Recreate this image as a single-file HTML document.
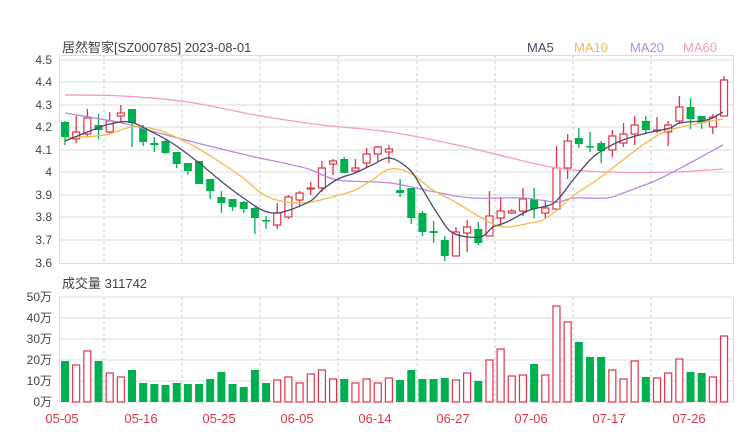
<!DOCTYPE html>
<html><head><meta charset="utf-8"><style>
body{margin:0;background:#fff;}
svg{display:block;font-family:"Liberation Sans","Noto Sans CJK SC",sans-serif;}
</style></head><body>
<svg id="s" width="740" height="440" viewBox="0 0 740 440" xmlns="http://www.w3.org/2000/svg">
<rect width="740" height="440" fill="#fff"/>
<text x="62" y="52" font-size="13" fill="#444">居然智家[SZ000785] 2023-08-01</text>
<text x="527" y="52" font-size="13" fill="#4a4a6a">MA5</text>
<text x="574" y="52" font-size="13" fill="#f5b94c">MA10</text>
<text x="630" y="52" font-size="13" fill="#b889e0">MA20</text>
<text x="683" y="52" font-size="13" fill="#f59ac8">MA60</text>
<g font-size="12" fill="#444" text-anchor="end">
<text x="52" y="64">4.5</text><text x="52" y="86">4.4</text><text x="52" y="109">4.3</text>
<text x="52" y="131">4.2</text><text x="52" y="154">4.1</text><text x="52" y="176">4</text>
<text x="52" y="199">3.9</text><text x="52" y="221">3.8</text><text x="52" y="244">3.7</text>
<text x="52" y="267">3.6</text>
<text x="52" y="301">50万</text><text x="52" y="322">40万</text><text x="52" y="343">30万</text>
<text x="52" y="364">20万</text><text x="52" y="385">10万</text><text x="52" y="406">0万</text>
</g>
<text x="62" y="288" font-size="13" fill="#444">成交量 311742</text>
<g font-size="13" fill="#e0344a" text-anchor="middle">
<text x="62" y="423">05-05</text><text x="141" y="423">05-16</text><text x="219" y="423">05-25</text>
<text x="297" y="423">06-05</text><text x="375" y="423">06-14</text><text x="453" y="423">06-27</text>
<text x="531" y="423">07-06</text><text x="609" y="423">07-17</text><text x="689" y="423">07-26</text>
</g>
<g id="grid"></g>
<g id="plot"></g>
</svg>
<script>
var NS="http://www.w3.org/2000/svg";
function el(p,t,a){var e=document.createElementNS(NS,t);for(var k in a)e.setAttribute(k,a[k]);p.appendChild(e);return e;}
var g=document.getElementById('grid'),p=document.getElementById('plot');
[60,82,105,127,150,172,195,217,240].forEach(function(y){el(g,'line',{x1:60,x2:733,y1:y,y2:y,stroke:'#ddd','stroke-width':1});});
[318,339,360,381].forEach(function(y){el(g,'line',{x1:60,x2:733,y1:y,y2:y,stroke:'#ddd','stroke-width':1});});
[104,182,260,338,417,495,573,651].forEach(function(x){
el(g,'line',{x1:x,x2:x,y1:55,y2:263,stroke:'#ccc','stroke-dasharray':'3,3'});
el(g,'line',{x1:x,x2:x,y1:297,y2:402,stroke:'#ccc','stroke-dasharray':'3,3'});});
el(g,'rect',{x:59.5,y:55.5,width:674,height:208,fill:'none',stroke:'#ddd'});
el(g,'rect',{x:59.5,y:297,width:674,height:105,fill:'none',stroke:'#ddd'});
var C=[[122,137,121,145,0],[132,139,116,143,1],[118,134,109,137,1],[125,130,114,139,0],[121,132,112,134,1],[113,116,105,123,1],[109,123,109,147,0],[127,142,125,146,0],[143,145,137,152,0],[141,153,139,154,0],[152,164,152,168,0],[163,171,163,175,0],[161,184,161,184,0],[179,191,179,199,0],[197,203,191,213,0],[199,207,199,211,0],[202,209,201,213,0],[208,218,207,234,0],[220,221,216,229,0],[213,225,203,229,1],[197,217,195,219,1],[193,200,191,206,1],[188,189,182,195,1],[168,188,161,192,1],[161,164,159,175,1],[159,173,157,173,0],[168,171,159,171,1],[154,163,148,167,1],[147,154,146,161,1],[149,152,145,163,1],
[190,193,179,197,0],[188,218,188,224,0],[213,232,211,236,0],[231,233,221,243,0],[240,256,236,261,0],[232,256,227,256,1],[227,233,220,252,1],[229,243,222,245,0],[216,236,191,236,1],[211,218,197,227,1],[211,213,209,214,1],[199,211,188,216,1],[199,209,188,218,0],[208,213,200,218,1],[168,209,146,211,1],[141,168,134,179,1],[138,144,128,148,0],[146,147,132,152,0],[143,151,141,163,0],[136,150,130,157,1],[134,143,123,147,1],[125,134,116,145,1],[121,130,116,133,0],[130,131,117,133,1],[125,132,121,146,1],[107,121,96,123,1],[107,119,98,129,0],[116,123,116,129,0],[117,127,114,134,1],[80,116,76,116,1]];
var V=[361,365,351,361,373,377,370,383,384,385,383,384,384,379,372,384,387,370,383,380,377,383,374,370,379,379,383,379,383,378,380,370,379,379,378,380,373,381,360,349,376,375,364,375,306,322,342,357,357,370,379,361,377,378,373,359,372,373,377,336];
var R='#e0344a',G='#00b050';
C.forEach(function(c,i){var x=65+i*11.17,col=c[4]?R:G;
el(p,'line',{x1:x,x2:x,y1:c[2],y2:c[3],stroke:col,'stroke-width':1.3});
if(c[4])el(p,'rect',{x:x-3.5,y:c[0],width:7,height:Math.max(c[1]-c[0],1),fill:'#fff',stroke:col,'stroke-width':1.2});
else el(p,'rect',{x:x-4,y:c[0],width:8,height:Math.max(c[1]-c[0],1.5),fill:col});
var v=V[i];
if(c[4])el(p,'rect',{x:x-3.5,y:v,width:7,height:402-v,fill:'#fff',stroke:R,'stroke-width':1.2});
else el(p,'rect',{x:x-4,y:v,width:8,height:402-v,fill:G});});
function line(s,col){var P=s.split(' ').map(function(t){return t.split(',').map(Number);});
var d='M'+P[0][0]+','+P[0][1];
for(var i=0;i<P.length-1;i++){var p0=P[i-1]||P[i],p1=P[i],p2=P[i+1],p3=P[i+2]||p2;
d+=' C'+(p1[0]+(p2[0]-p0[0])/6)+','+(p1[1]+(p2[1]-p0[1])/6)+' '+(p2[0]-(p3[0]-p1[0])/6)+','+(p2[1]-(p3[1]-p1[1])/6)+' '+p2[0]+','+p2[1];}
el(p,'path',{d:d,fill:'none',stroke:col,'stroke-width':1.3});}
line("65,95 122,96 188,102 255,115 322,125 390,132 457,145 507,157 557,168 607,172 673,172 723,169",'#f59ac8');
line("65,113 122,123 155,132 205,145 255,157 305,168 338,180 390,183 440,193 473,198 523,198 557,202 573,198 607,198 623,193 657,180 690,163 723,145",'#b889e0');
line("65,138 105,135 132,127 158,130 188,143 212,157 242,177 268,197 302,203 332,197 355,190 372,180 390,169 410,173 433,190 457,203 480,217 503,227 530,223 543,220 557,210 577,193 597,180 623,160 650,140 670,130 700,123 723,119",'#f5b94c');
line("65,141 95,129 110,124 130,122 152,132 172,143 198,162 222,182 242,197 262,210 277,213 295,208 312,200 322,190 338,179 355,173 372,165 390,158 410,170 423,190 437,213 453,233 480,237 493,227 507,222 530,210 550,205 560,197 573,180 590,160 603,150 623,140 647,133 670,128 680,123 707,120 723,112",'#4a4a6a');
</script>
</body></html>
